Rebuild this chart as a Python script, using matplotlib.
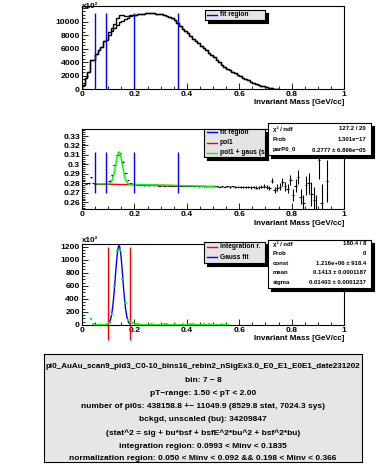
import numpy as np
import matplotlib
matplotlib.use('Agg')
import matplotlib.pyplot as plt
from matplotlib.ticker import MultipleLocator, FuncFormatter

plt.rcParams['font.family'] = ['Liberation Sans', 'DejaVu Sans']
plt.rcParams['font.weight'] = 'bold'

# ---- data ----
bin_width = 0.01

# panel 1: same event / mixed event invariant mass (units of 10^2), bins from 0.00
same_counts = [600, 1600, 2600, 4400, 4400, 5200, 5800, 6300, 7200, 7300,
               8400, 9000, 9700, 10500, 11000, 10900, 10800, 10800, 10900, 10950,
               11000, 11050, 11100, 11150, 11200, 11200, 11250, 11200, 11150, 11100,
               11050, 10950, 10850, 10700, 10500, 10200, 9800, 9300, 8950, 8600,
               8250, 7900, 7500, 7150, 6800, 6450, 6100, 5750, 5400, 5050,
               4700, 4350, 4000, 3650, 3350, 3050, 2850, 2600, 2350, 2100,
               1900, 1700, 1500, 1300, 1150, 1000, 850, 700, 560, 430,
               320, 220, 150, 100, 60]
mixed_counts = [600, 1600, 2600, 4400, 4400, 5200, 5800, 6300, 7200, 7300,
                8000, 8600, 9100, 9500, 9900, 10150, 10400, 10600, 10750, 10900,
                11000, 11050, 11100, 11150, 11200, 11200, 11250, 11200, 11150, 11100,
                11050, 10950, 10850, 10700, 10500, 10200, 9800, 9300, 8950, 8600,
                8250, 7900, 7500, 7150, 6800, 6450, 6100, 5750, 5400, 5050,
                4700, 4350, 4000, 3650, 3350, 3050, 2850, 2600, 2350, 2100,
                1900, 1700, 1500, 1300, 1150, 1000, 850, 700, 560, 430,
                320, 220, 150, 100, 60]
norm_region = [0.050, 0.092, 0.198, 0.366]

# panel 2: same/mixed ratio, bins from 0.01
ratio_start = 0.01
ratio_vals = [0.2795, 0.2800, 0.2865, 0.2800, 0.2795, 0.2793, 0.2795, 0.2798, 0.2805, 0.2830,
              0.2885, 0.2990, 0.3100, 0.3120, 0.3030, 0.2910, 0.2835, 0.2805, 0.2795, 0.2790,
              0.2785, 0.2782, 0.2780, 0.2782, 0.2779, 0.2781, 0.2778, 0.2780, 0.2777, 0.2778,
              0.2776, 0.2779, 0.2775, 0.2777, 0.2776, 0.2774, 0.2776, 0.2773, 0.2775, 0.2772,
              0.2774, 0.2771, 0.2773, 0.2770, 0.2772, 0.2769, 0.2771, 0.2768, 0.2770, 0.2767,
              0.2769, 0.2766, 0.2770, 0.2764, 0.2767, 0.2763, 0.2768, 0.2762, 0.2766, 0.2761,
              0.2765, 0.2760, 0.2764, 0.2758, 0.2762, 0.2756, 0.2760, 0.2765, 0.2768, 0.2760,
              0.2752, 0.2829, 0.2730, 0.2755, 0.2765, 0.2818, 0.2770, 0.2745, 0.2836, 0.2677,
              0.2775, 0.2870, 0.2660, 0.2590, 0.2780, 0.2800, 0.2690, 0.2620, 0.2520, 0.3047,
              0.2590, np.nan, 0.2825]
ratio_errs = [0.0006, 0.0005, 0.0004, 0.0004, 0.0003, 0.0003, 0.0003, 0.0003, 0.0003, 0.0003,
              0.0003, 0.0003, 0.0003, 0.0003, 0.0003, 0.0003, 0.0003, 0.0003, 0.0003, 0.0003,
              0.0003, 0.0003, 0.0003, 0.0003, 0.0003, 0.0003, 0.0003, 0.0003, 0.0003, 0.0003,
              0.0003, 0.0003, 0.0003, 0.0003, 0.0003, 0.0004, 0.0004, 0.0004, 0.0004, 0.0004,
              0.0004, 0.0004, 0.0004, 0.0004, 0.0004, 0.0005, 0.0005, 0.0005, 0.0005, 0.0005,
              0.0005, 0.0006, 0.0006, 0.0006, 0.0007, 0.0007, 0.0007, 0.0008, 0.0008, 0.0009,
              0.0010, 0.0011, 0.0012, 0.0013, 0.0014, 0.0015, 0.0016, 0.0018, 0.0020, 0.0022,
              0.0025, 0.0028, 0.0031, 0.0034, 0.0038, 0.0042, 0.0046, 0.0050, 0.0055, 0.0060,
              0.0066, 0.0073, 0.0080, 0.0090, 0.0100, 0.0110, 0.0125, 0.0140, 0.0160, 0.0200,
              0.0200, np.nan, 0.0220]
# fit parameters (pol1, pol1 + gaus)
pol1_p0, pol1_p1 = 0.2797, -0.0060
fit_p0, fit_p1 = 0.2800, -0.0062
fit_amp, fit_mean, fit_sigma = 0.0340, 0.1413, 0.0128
pol1_range = [0.050, 0.366]
fit_range = [0.050, 0.505]

# panel 3: background subtracted signal (units of 10^2), bins from 0.03
signal_start = 0.03
signal_vals = [90, 12, 3, -3, 2, 4, 8, 28, 165, 600,
               1140, 1150, 700, 340, 72, 45, 28, 15, 6, 3,
               2, 4, 2, 10, 3, 1, 3, 2, 12, 14,
               3, 2, 5, 1, 3, 7, 2, 3, 9, 11,
               3, 2, 4, 7, 2, 6, 3, 1, 4, 2,
               6, 2, 1]
signal_err = 8
gaus_const, gaus_mean, gaus_sigma = 1216, 0.1413, 0.01403
integ_region = [0.0993, 0.1835]

info_lines = ["pi0_AuAu_scan9_pid3_C0-10_bins16_rebin2_nSigEx3.0_E0_E1_E0E1_date231202",
              "bin: 7 \u2212 8",
              "pT\u2212range: 1.50 < pT < 2.00",
              "number of pi0s: 438158.8 +\u2212 11049.9 (8529.8 stat, 7024.3 sys)",
              "bckgd, unscaled (bu): 34209847",
              "(stat^2 = sig + bu*bsf + bsfE^2*bu^2 + bsf^2*bu)",
              "integration region: 0.0993 < Minv < 0.1835",
              "normalization region: 0.050 < Minv < 0.092 && 0.198 < Minv < 0.366"]

stats2 = [("\u03c7\u00b2 / ndf", "127.2 / 20"), ("Prob", "1.301e\u221217"),
          ("parP0_0", "0.2777 \u00b1 6.896e\u221205")]
stats3 = [("\u03c7\u00b2 / ndf", "180.4 / 8"), ("Prob", "0"),
          ("const", "1.216e+06 \u00b1 918.4"), ("mean", "0.1413 \u00b1 0.0001187"),
          ("sigma", "0.01403 \u00b1 0.0001237")]

W, H = 385, 471
fig = plt.figure(figsize=(W / 100, H / 100), dpi=100)
fig.patch.set_facecolor('white')


def frect(x0, y0, x1, y1):
    # pixel box (top-left origin) -> figure fraction rect
    return [x0 / W, 1 - y1 / H, (x1 - x0) / W, (y1 - y0) / H]


def ftext(x, y, s, **kw):
    fig.text(x / W, 1 - y / H, s, **kw)


def pave(x0, y0, x1, y1, fc, z, shadow=3):
    if shadow:
        sh = fig.add_axes(frect(x0 + shadow, y0 + shadow, x1 + shadow, y1 + shadow))
        sh.set_facecolor('black')
        sh.set_xticks([])
        sh.set_yticks([])
        sh.set_zorder(z)
    bx = fig.add_axes(frect(x0, y0, x1, y1))
    bx.set_facecolor(fc)
    bx.set_xticks([])
    bx.set_yticks([])
    for s in bx.spines.values():
        s.set_linewidth(0.8)
    bx.set_xlim(x0, x1)
    bx.set_ylim(y1, y0)
    bx.set_zorder(z + 0.1)
    return bx


def style(ax, ylo, yhi, ymaj, ymin, ylab_max=None):
    ax.set_xlim(0, 1)
    ax.set_ylim(ylo, yhi)
    ax.xaxis.set_major_locator(MultipleLocator(0.2))
    ax.xaxis.set_minor_locator(MultipleLocator(0.05))
    ax.yaxis.set_major_locator(MultipleLocator(ymaj))
    ax.yaxis.set_minor_locator(MultipleLocator(ymin))
    ax.tick_params(which='both', direction='in', top=False, right=False,
                   labelsize=6.1, width=0.6)
    ax.tick_params(which='major', length=4, pad=1.5)
    ax.tick_params(which='minor', length=2)
    ax.xaxis.set_major_formatter(FuncFormatter(lambda v, p: '%g' % round(v, 3)))
    if ylab_max is None:
        ax.yaxis.set_major_formatter(FuncFormatter(lambda v, p: '%g' % round(v, 3)))
    else:
        ax.yaxis.set_major_formatter(
            FuncFormatter(lambda v, p: '' if v > ylab_max else '%g' % round(v, 3)))
    for s in ax.spines.values():
        s.set_linewidth(0.8)


# ---- panel 1 ----
ax1 = fig.add_axes(frect(82, 6, 344, 89.3))
edges = np.arange(len(same_counts) + 1) * bin_width
ax1.stairs(mixed_counts, edges, color='black', lw=1.0)
ax1.stairs(same_counts, edges, color='black', lw=1.0)
ax1.vlines(norm_region, 0, 11330, color='blue', lw=1.0)
style(ax1, 0, 12300, 2000, 500, ylab_max=11000)
ftext(82, 8.5, 'x10\u00b2', fontsize=5.8, va='baseline')
ftext(344, 103, 'Invariant Mass [GeV/cc]', fontsize=5.8, ha='right', va='center')

lg = pave(205, 10, 265, 20, '#e4e4e4', 5)
lg.plot([207, 217], [15, 15], color='blue', lw=1.0)
lg.text(220, 15, 'fit region', fontsize=4.8, va='center', clip_on=True)

# ---- panel 2 ----
ax2 = fig.add_axes(frect(82, 129, 344, 209.3))
rc = ratio_start + (np.arange(len(ratio_vals)) + 0.5) * bin_width
ax2.errorbar(rc, ratio_vals, yerr=ratio_errs, xerr=bin_width / 2, fmt='none',
             ecolor='black', elinewidth=0.8)
xp = np.linspace(pol1_range[0], pol1_range[1], 50)
ax2.plot(xp, pol1_p0 + pol1_p1 * xp, color='red', lw=1.0)
xf = np.linspace(fit_range[0], fit_range[1], 300)
ax2.plot(xf, fit_p0 + fit_p1 * xf + fit_amp * np.exp(-0.5 * ((xf - fit_mean) / fit_sigma) ** 2),
         color=(0, 1, 0), lw=1.1)
ax2.vlines(norm_region, 0.2702, 0.3128, color='blue', lw=1.0)
style(ax2, 0.2526, 0.3374, 0.01, 0.002)
ftext(344, 223.5, 'Invariant Mass [GeV/cc]', fontsize=5.8, ha='right', va='center')

lg = pave(204, 129, 265, 157, '#e4e4e4', 5)
for yy, c, s in [(132.5, 'blue', 'fit region'), (143, 'red', 'pol1'),
                 (153, (0, 1, 0), 'pol1 + gaus (sig)')]:
    lg.plot([207, 217], [yy, yy], color=c, lw=1.0)
    lg.text(220, yy, s, fontsize=4.8, va='center', clip_on=True)

st = pave(268, 123, 371, 155, 'white', 6)
for yy, (k, v) in zip([129, 139.5, 150], stats2):
    st.text(273, yy, k, fontsize=4.3, va='center')
    st.text(366, yy, v, fontsize=4.3, va='center', ha='right')

# ---- panel 3 ----
ax3 = fig.add_axes(frect(82, 244, 344, 325.3))
sc = signal_start + (np.arange(len(signal_vals)) + 0.5) * bin_width
xg = np.linspace(integ_region[0], integ_region[1], 120)
ax3.plot(xg, gaus_const * np.exp(-0.5 * ((xg - gaus_mean) / gaus_sigma) ** 2),
         color='blue', lw=1.0, zorder=2)
ax3.errorbar(sc, signal_vals, yerr=signal_err, xerr=bin_width / 2, fmt='none',
             ecolor=(0, 1, 0), elinewidth=1.2, zorder=3)
ax3.vlines(integ_region, -235, 1200, color='red', lw=1.0, clip_on=False)
style(ax3, -8, 1242, 200, 50)
ftext(82, 242.5, 'x10\u00b2', fontsize=5.8, va='baseline')
ftext(344, 339, 'Invariant Mass [GeV/cc]', fontsize=5.8, ha='right', va='center')

lg = pave(204, 242, 265, 263, '#e4e4e4', 5)
for yy, c, s in [(246.7, 'red', 'integration r.'), (257.3, 'blue', 'Gauss fit')]:
    lg.plot([207, 217], [yy, yy], color=c, lw=1.0)
    lg.text(220, yy, s, fontsize=4.8, va='center', clip_on=True)

st = pave(268, 240, 371, 288, 'white', 6)
for yy, (k, v) in zip([243.8, 253.6, 263.4, 273, 282.7], stats3):
    st.text(273, yy, k, fontsize=4.3, va='center')
    st.text(366, yy, v, fontsize=4.3, va='center', ha='right')

# ---- info box ----
ib = pave(44, 354, 362, 462, '#e6e6e6', 5, shadow=0)
for i, (yy, s) in enumerate(zip([366, 380.5, 393.8, 406.5, 419.3, 433, 446, 459], info_lines)):
    ib.text(203, yy, s, fontsize=5.75 if i == 0 else 6.0, ha='center', va='center',
            clip_on=True)

fig.savefig('out.png', dpi=100)
